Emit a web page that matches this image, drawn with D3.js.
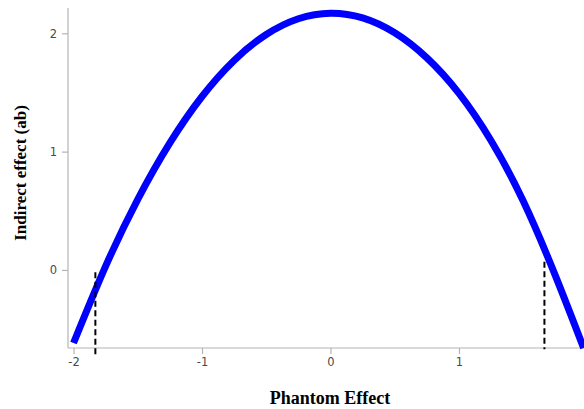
<!DOCTYPE html>
<html>
<head>
<meta charset="utf-8">
<script src="https://cdn.jsdelivr.net/npm/d3@7"></script>
<style>
  html, body { margin: 0; padding: 0; background: #fff; }
  svg { display: block; }
</style>
</head>
<body>
<svg id="chart" width="584" height="409"></svg>
<script>
// Moderator values (Phantom Effect) and the indirect effect ab at each
const phantom  = [-2.0, -1.75, -1.5, -1.25, -1.0, -0.75, -0.5, -0.25, 0.0, 0.25, 0.5, 0.75, 1.0, 1.25, 1.5, 1.75, 1.97];
const indirect = [-0.618, 0.032, 0.597, 1.074, 1.466, 1.771, 1.99, 2.123, 2.17, 2.13, 2.004, 1.792, 1.492, 1.092, 0.582, -0.048, -0.66];

// Region-of-significance boundaries (dashed markers)
const boundaryX      = [-1.83, 1.665];
const boundaryTop    = [-0.02, 0.07];
const boundaryBottom = [-0.74, -0.67];

const xTicks = [-2, -1, 0, 1];
const yTicks = [0, 1, 2];

const svg = d3.select("#chart");

const x = d3.scaleLinear().domain([-2.043, 1.973]).range([68, 584]);
const y = d3.scaleLinear().domain([-0.66, 2.214]).range([348, 8]);

// Axes
const xAxis = svg.append("g")
  .attr("transform", `translate(0,${y.range()[0]})`)
  .call(d3.axisBottom(x).tickValues(xTicks).tickSize(6).tickPadding(4).tickFormat(d => String(d)));
const yAxis = svg.append("g")
  .attr("transform", `translate(${x.range()[0]},0)`)
  .call(d3.axisLeft(y).tickValues(yTicks).tickSize(6).tickPadding(5).tickFormat(d => String(d)));

[xAxis, yAxis].forEach(g => {
  g.select(".domain").attr("stroke", "#b4b4b4").attr("stroke-width", 1.2);
  g.selectAll(".tick line").attr("stroke", "#b4b4b4").attr("stroke-width", 1.2);
  g.selectAll(".tick text")
    .attr("fill", "#4a4a4a")
    .style("font-family", "'DejaVu Sans', Verdana, sans-serif")
    .style("font-size", "11.5px");
});
// plain square corners on the axis domains
xAxis.select(".domain").attr("d", `M${x.range()[0]},0H${x.range()[1]}`);
yAxis.select(".domain").attr("d", `M0,${y.range()[1]}V${y.range()[0]}`);

// Indirect-effect curve
const pts = phantom.map((p, i) => [p, indirect[i]]);
const line = d3.line()
  .x(d => x(d[0]))
  .y(d => y(d[1]))
  .curve(d3.curveNatural);

svg.append("path")
  .datum(pts)
  .attr("fill", "none")
  .attr("stroke", "#0000ff")
  .attr("stroke-width", 7)
  .attr("stroke-linecap", "butt")
  .attr("d", line);

// Dashed boundary markers
svg.selectAll("line.boundary")
  .data(boundaryX)
  .enter()
  .append("line")
  .attr("class", "boundary")
  .attr("x1", d => x(d))
  .attr("x2", d => x(d))
  .attr("y1", (d, i) => y(boundaryTop[i]))
  .attr("y2", (d, i) => y(boundaryBottom[i]))
  .attr("stroke", "#000")
  .attr("stroke-width", 2)
  .attr("stroke-dasharray", "6,3.5");

// Axis titles
svg.append("text")
  .attr("x", 330)
  .attr("y", 404)
  .attr("text-anchor", "middle")
  .style("font-family", "'Liberation Serif', 'Times New Roman', serif")
  .style("font-weight", "bold")
  .style("font-size", "18px")
  .text("Phantom Effect");

svg.append("text")
  .attr("transform", "translate(26,173) rotate(-90)")
  .attr("text-anchor", "middle")
  .style("font-family", "'Liberation Serif', 'Times New Roman', serif")
  .style("font-weight", "bold")
  .style("font-size", "17px")
  .text("Indirect effect (ab)");
</script>
</body>
</html>
